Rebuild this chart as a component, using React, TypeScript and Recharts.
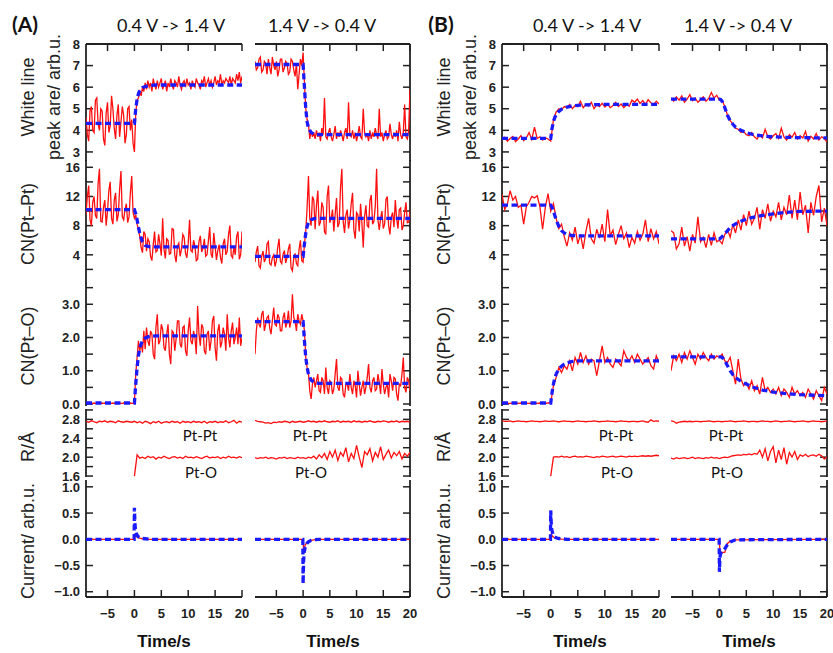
import React from "react";
import { LineChart, Line, XAxis, YAxis, ReferenceLine } from "recharts";

// Time-resolved XAS / current traces after a potential step, two samples (A) and (B).

const TIME = [
  -9, -8.5, -8, -7.5, -7, -6.5, -6, -5.5, -5, -4.5, -4, -3.5, -3, -2.5, -2, -1.5, -1, -0.5,
  0, 0.5, 1, 1.5, 2, 2.5, 3, 3.5, 4, 4.5, 5, 5.5, 6, 6.5, 7, 7.5, 8, 8.5, 9, 9.5, 10, 10.5,
  11, 11.5, 12, 12.5, 13, 13.5, 14, 14.5, 15, 15.5, 16, 16.5, 17, 17.5, 18, 18.5, 19, 19.5, 20,
];
// (A) traces are sampled more densely
const TIME_FINE = [
  -9, -8.75, -8.5, -8.25, -8, -7.75, -7.5, -7.25, -7, -6.75, -6.5, -6.25, -6, -5.75, -5.5, -5.25,
  -5, -4.75, -4.5, -4.25, -4, -3.75, -3.5, -3.25, -3, -2.75, -2.5, -2.25, -2, -1.75, -1.5, -1.25,
  -1, -0.75, -0.5, -0.25,
  0,
  0.25, 0.5, 0.75, 1, 1.25, 1.5, 1.75, 2, 2.25, 2.5, 2.75, 3, 3.25, 3.5, 3.75, 4, 4.25, 4.5, 4.75, 5,
  5.25, 5.5, 5.75, 6, 6.25, 6.5, 6.75, 7, 7.25, 7.5, 7.75, 8, 8.25, 8.5, 8.75, 9, 9.25, 9.5, 9.75, 10,
  10.25, 10.5, 10.75, 11, 11.25, 11.5, 11.75, 12, 12.25, 12.5, 12.75, 13, 13.25, 13.5, 13.75, 14, 14.25,
  14.5, 14.75, 15, 15.25, 15.5, 15.75, 16, 16.25, 16.5, 16.75, 17, 17.25, 17.5, 17.75, 18, 18.25, 18.5,
  18.75, 19, 19.25, 19.5, 19.75, 20,
];
const FIT_TIME = [-9, 0, 0.25, 0.5, 0.75, 1, 1.5, 2, 2.5, 3, 4, 5, 6, 8, 10, 12, 15, 20];
const CUR_TIME = [-9, -0.05, 0, 0.1, 0.2, 0.4, 0.7, 1, 1.5, 2, 3, 20];

const TIME_DOMAIN = [-9, 20];
const TIME_TICKS = [-5, 0, 5, 10, 15, 20];
const WL_TICKS = [3, 4, 5, 6, 7, 8];
const PTPT_TICKS = [2, 4, 6, 8, 10, 12, 14, 16];
const PTO_TICKS = [0, 0.5, 1, 1.5, 2, 2.5, 3, 3.5];
const R_TICKS = [1.6, 1.8, 2.0, 2.2, 2.4, 2.6, 2.8, 3.0];
const CUR_TICKS = [-1, -0.5, 0, 0.5, 1];

const SAMPLES = ["(A)", "(B)"];
const STEPS = ["0.4 V -> 1.4 V", "1.4 V -> 0.4 V"];
const BOND_LABELS = ["Pt-Pt", "Pt-O"];

// ---- (A) white line area (TIME_FINE)
const WL_A_UP = [
  4.6, 3.8, 3.5, 4.9, 5.1, 4.0, 3.9, 5.4, 5.5, 4.3, 4.0, 5.0, 4.9, 3.6, 3.3, 4.8, 5.3, 3.9,
  4.2, 5.6, 5.0, 4.1, 3.6, 4.7, 5.2, 3.7, 4.4, 5.1, 4.7, 3.4, 3.8, 5.0, 5.1, 4.0, 4.5, 3.4,
  3.0,
  4.8, 5.4, 5.5, 5.8, 5.6, 6.0, 5.8, 6.2,
  5.9, 6.3, 6.0, 6.2, 5.8, 6.4, 6.1, 5.9, 6.3, 6.0, 6.2, 6.4, 5.9, 6.1, 6.3, 5.8, 6.2, 6.0, 6.4, 6.1,
  5.9, 6.3, 6.2, 6.0, 6.5, 6.1, 5.9, 6.2, 6.3, 6.0, 6.4, 6.1, 6.2, 5.9, 6.3, 6.1, 6.0, 6.4, 6.2, 6.1,
  5.9, 6.3, 6.2, 6.5, 6.0, 6.2, 6.4, 6.1, 6.3, 6.0, 6.2, 6.5, 6.1, 6.3, 6.2, 6.6, 6.1, 6.3, 6.2, 6.4,
  6.3, 6.2, 6.5, 6.1, 6.4, 6.3, 6.2, 6.6, 6.3, 6.7, 6.2, 6.5,
];
const WL_A_DOWN = [
  7.2, 6.8, 6.9, 7.3, 7.4, 6.7, 6.8, 7.2, 7.1, 6.6, 7.3, 6.9, 6.6, 7.4, 7.0, 6.8, 7.2, 6.5,
  6.8, 7.3, 7.3, 6.7, 6.9, 7.2, 7.1, 6.6, 6.7, 7.3, 7.2, 6.8, 6.5, 7.1, 5.9, 6.6, 7.3, 7.0,
  7.6,
  6.2, 5.0, 4.5, 4.3, 3.6, 4.0, 3.7, 3.9,
  3.6, 4.0, 3.7, 3.9, 3.5, 4.1, 3.8, 5.5, 3.7, 3.6, 3.9, 4.1, 3.7, 3.5, 3.8, 4.2, 3.6, 3.9, 3.7, 4.0,
  3.8, 3.5, 3.9, 4.1, 3.6, 5.3, 3.8, 3.7, 4.0, 3.6, 3.9, 3.5, 3.8, 4.2, 3.7, 3.6, 5.0, 3.9, 3.7, 3.8,
  3.5, 4.0, 3.6, 3.9, 3.7, 4.1, 3.8, 3.6, 5.0, 3.7, 3.9, 3.5, 3.8, 4.0, 3.6, 3.7, 4.3, 3.8, 3.6, 3.9,
  3.7, 4.0, 3.5, 4.4, 3.8, 3.6, 3.9, 5.2, 3.7, 3.6, 4.0, 5.9,
];
const WL_A_UP_FIT = [4.32, 4.32, 5.0, 5.45, 5.7, 5.85, 5.98, 6.03, 6.06, 6.08, 6.1, 6.1, 6.1, 6.1, 6.1, 6.1, 6.1, 6.1];
const WL_A_DOWN_FIT = [7.05, 7.05, 6.0, 5.0, 4.4, 4.1, 3.9, 3.83, 3.8, 3.8, 3.8, 3.8, 3.8, 3.8, 3.8, 3.8, 3.8, 3.8];

// ---- (A) CN(Pt-Pt) (TIME_FINE)
const PTPT_A_UP = [
  9.5, 12.0, 13.5, 8.8, 8.0, 11.2, 12.0, 9.4, 9.0, 13.8, 15.8, 8.6, 8.5, 10.5, 11.5, 8.0, 10.0, 12.8,
  14.0, 9.0, 8.2, 11.5, 12.5, 8.6, 9.5, 13.0, 15.5, 9.2, 8.8, 10.2, 11.0, 8.4, 9.2, 12.5, 14.8, 9.8,
  9.0,
  9.5, 8.2, 7.5, 6.5, 5.0, 4.3, 7.2, 6.8,
  4.5, 6.2, 5.8, 3.8, 3.2, 5.4, 7.2, 4.4, 4.6, 6.8, 5.5, 3.9, 9.0, 4.8, 3.5, 6.2, 6.0, 4.1, 4.2, 7.6,
  7.5, 4.0, 3.0, 5.2, 5.6, 3.8, 4.8, 6.8, 6.4, 4.2, 3.6, 5.5, 8.8, 4.6, 4.4, 6.0, 5.2, 3.2, 3.4, 5.8,
  6.6, 4.4, 4.9, 6.2, 3.8, 4.0, 5.9, 7.8, 4.1, 3.6, 7.0, 5.2, 3.3, 4.6, 5.4, 3.6, 2.8, 5.5, 6.2, 4.0,
  4.5, 6.8, 8.0, 3.9, 3.6, 5.1, 4.0, 6.5, 7.2, 3.4, 4.0, 7.2,
];
const PTPT_A_DOWN = [
  3.0, 4.4, 5.2, 2.5, 2.2, 3.8, 4.5, 3.0, 3.5, 5.5, 5.8, 2.8, 2.6, 3.6, 4.0, 2.4, 3.2, 5.0,
  6.2, 3.1, 2.8, 4.1, 4.6, 2.9, 3.6, 4.8, 5.5, 2.2, 1.8, 3.5, 4.2, 2.8, 2.5, 4.8, 6.0, 3.2,
  3.0,
  5.5, 7.2, 10.5, 14.8, 9.0, 8.0, 12.0, 11.5,
  7.5, 10.8, 12.8, 8.0, 8.5, 11.2, 10.5, 7.2, 6.8, 12.0, 13.5, 8.4, 9.0, 10.2, 7.2, 9.6, 11.8, 7.8, 8.3, 13.2,
  15.8, 8.6, 7.0, 9.4, 10.2, 7.6, 8.8, 11.0, 12.5, 7.4, 6.2, 9.8, 9.5, 7.2, 11.0, 8.4, 5.0, 9.2, 10.8, 8.0,
  7.8, 11.4, 12.2, 8.2, 8.6, 10.6, 15.8, 8.8, 7.4, 9.0, 10.0, 7.6, 8.2, 11.6, 12.0, 8.0, 6.8, 9.2, 9.8, 7.8,
  11.5, 9.0, 7.6, 10.2, 10.4, 7.4, 8.0, 9.8, 11.2, 8.4, 8.5, 10.0,
];
const PTPT_A_UP_FIT = [10.2, 10.2, 9.6, 8.8, 7.8, 6.9, 5.8, 5.3, 5.15, 5.1, 5.1, 5.1, 5.1, 5.1, 5.1, 5.1, 5.1, 5.1];
const PTPT_A_DOWN_FIT = [3.8, 3.8, 5.5, 7.0, 7.9, 8.4, 8.8, 8.95, 9.0, 9.0, 9.0, 9.0, 9.0, 9.0, 9.0, 9.0, 9.0, 9.0];

// ---- (A) CN(Pt-O) (TIME_FINE)
const PTO_A_UP = [
  0.02, 0.03, 0.02, 0.02, 0.03, 0.02, 0.03, 0.02, 0.02, 0.03, 0.02, 0.02, 0.03, 0.02, 0.03, 0.02, 0.02, 0.03,
  0.02, 0.02, 0.03, 0.02, 0.03, 0.02, 0.02, 0.03, 0.02, 0.02, 0.03, 0.02, 0.03, 0.02, 0.02, 0.03, 0.02, 0.02,
  0.03,
  0.9, 1.4, 1.9, 1.6, 1.85, 1.55, 2.2, 1.65,
  2.3, 1.9, 1.75, 2.2, 2.1, 1.5, 1.35, 2.3, 2.7, 1.8, 1.9, 2.4, 2.25, 1.7, 1.6, 2.1, 2.4, 1.5, 1.2, 2.2,
  2.15, 1.6, 1.95, 2.5, 2.5, 1.8, 1.7, 2.3, 2.35, 1.6, 1.45, 2.2, 2.6, 1.9, 1.8, 2.2, 2.0, 1.5, 2.95, 2.1,
  1.75, 2.4, 2.3, 1.6, 1.5, 2.1, 2.2, 1.6, 1.9, 2.5, 2.65, 1.7, 1.3, 2.2, 2.4, 1.7, 1.85, 2.3, 2.1, 1.6,
  2.7, 2.0, 1.7, 2.2, 2.45, 1.8, 2.0, 2.3, 1.8, 2.6, 1.75, 2.0,
];
const PTO_A_DOWN = [
  1.5, 2.2, 2.6, 2.4, 2.3, 2.7, 2.8, 2.2, 2.4, 2.6, 2.65, 2.3, 2.1, 2.5, 2.9, 2.4, 2.35, 2.7,
  2.6, 2.2, 2.2, 2.6, 2.75, 2.3, 2.45, 2.8, 2.3, 2.5, 3.3, 2.6, 2.5, 2.2, 2.7, 2.5, 2.4, 2.7,
  2.5,
  2.2, 1.4, 1.1, 0.95, 0.4, 0.15, 0.6, 0.8,
  0.5, 0.7, 0.9, 0.4, 0.35, 0.8, 0.7, 0.3, 1.1, 0.5, 0.3, 0.7, 0.65, 0.3, 0.45, 0.9, 1.35, 0.5, 0.4, 0.8,
  0.75, 0.3, 0.2, 0.6, 0.6, 0.4, 0.9, 0.5, 0.3, 0.7, 0.55, 0.2, 1.0, 0.6, 0.25, 0.5, 0.7, 0.3, 0.5, 0.8,
  1.2, 0.5, 0.35, 0.7, 0.8, 0.4, 0.45, 0.9, 0.65, 0.3, 1.05, 0.6, 0.3, 0.5, 0.6, 0.2, 0.9, 0.7, 0.4, 0.8,
  0.75, 0.3, 0.1, 0.6, 0.55, 0.9, 1.4, 0.5, 0.35, 0.8, 0.7, 0.4,
];
const PTO_A_UP_FIT = [0.03, 0.03, 0.6, 1.1, 1.45, 1.7, 1.9, 1.98, 2.02, 2.04, 2.05, 2.05, 2.05, 2.05, 2.05, 2.05, 2.05, 2.05];
const PTO_A_DOWN_FIT = [2.48, 2.48, 1.9, 1.4, 1.1, 0.9, 0.72, 0.66, 0.63, 0.62, 0.62, 0.62, 0.62, 0.62, 0.62, 0.62, 0.62, 0.62];

// ---- (A) bond distances (TIME)
const R_PTPT_A_UP = [
  2.76, 2.74, 2.77, 2.75, 2.73, 2.76, 2.75, 2.77, 2.74, 2.76, 2.75, 2.73, 2.77, 2.75, 2.74, 2.76, 2.75, 2.74,
  2.76, 2.73, 2.75, 2.72, 2.76, 2.74, 2.71, 2.75, 2.73, 2.76, 2.72, 2.74, 2.75, 2.73, 2.76, 2.74, 2.75, 2.72,
  2.76, 2.74, 2.75, 2.73, 2.76, 2.74, 2.75, 2.73, 2.76, 2.72, 2.75, 2.74, 2.76, 2.73, 2.75, 2.74, 2.77, 2.73,
  2.75, 2.78, 2.72, 2.76, 2.74,
];
const R_PTO_A_UP = [
  null, null, null, null, null, null, null, null, null, null, null, null, null, null, null, null, null, null,
  1.6,
  2.05, 1.98, 2.0, 1.97, 2.02, 1.99, 2.01, 1.96, 2.0, 1.98, 2.02, 1.99, 1.97, 2.0, 2.01, 1.98, 2.0, 1.97, 2.02, 1.99,
  2.0, 1.98, 2.01, 1.99, 1.97, 2.0, 2.02, 1.98, 2.0, 1.99, 2.01, 1.97, 2.0, 1.98, 2.02, 1.99, 2.0, 1.98, 2.01, 1.99,
];
const R_PTPT_A_DOWN = [
  2.78, 2.76, 2.75, 2.74, 2.72, 2.73, 2.71, 2.74, 2.73, 2.75, 2.74, 2.76, 2.75, 2.73, 2.76, 2.74, 2.75, 2.76,
  2.74, 2.75, 2.77, 2.75, 2.76, 2.74, 2.76, 2.75, 2.77, 2.75, 2.74, 2.76, 2.75, 2.77, 2.74, 2.76, 2.75, 2.76,
  2.74, 2.77, 2.75, 2.76, 2.74, 2.76, 2.75, 2.77, 2.75, 2.74, 2.76, 2.75, 2.77, 2.76, 2.74, 2.76, 2.75, 2.77,
  2.74, 2.76, 2.75, 2.76, 2.74,
];
const R_PTO_A_DOWN = [
  1.99, 1.97, 1.99, 1.98, 2.0, 1.97, 1.99, 1.98, 1.96, 1.99, 1.98, 2.0, 1.97, 1.99, 1.98, 1.97, 2.0, 1.98,
  1.99, 1.97, 2.0, 1.98, 2.02, 1.96, 2.05, 1.99, 2.08, 1.95, 2.12, 2.0, 2.15, 1.93, 2.1, 2.02, 2.2, 1.9,
  2.08, 1.97, 2.25, 2.0, 1.78, 2.12, 2.05, 2.18, 1.92, 2.1, 2.0, 2.22, 1.95, 2.06, 2.15, 1.98, 2.1, 2.03,
  2.12, 1.96, 2.08, 2.02, 2.1,
];

// ---- (A) current (CUR_TIME)
const CUR_A_UP = [0, 0, 0.02, 0.09, 0.08, 0.05, 0.03, 0.02, 0.01, 0.005, 0, 0];
const CUR_A_UP_FIT = [0, 0, 0.6, 0.3, 0.18, 0.1, 0.05, 0.03, 0.015, 0.01, 0, 0];
const CUR_A_DOWN = [0, 0, -0.04, -0.2, -0.17, -0.11, -0.06, -0.04, -0.02, -0.01, 0, 0];
const CUR_A_DOWN_FIT = [0, 0, -0.85, -0.4, -0.25, -0.15, -0.08, -0.05, -0.02, -0.01, 0, 0];

// ---- (B) white line area (TIME)
const WL_B_UP = [
  3.55, 3.68, 3.5, 3.62, 3.72, 3.48, 3.6, 3.75, 3.52, 3.65, 3.9, 3.58, 4.15, 3.62, 3.7, 3.55, 3.66, 3.6,
  3.5,
  4.5, 4.85, 5.0, 4.95, 5.1, 5.05, 5.2, 5.0, 5.15, 5.1, 5.35, 5.05, 5.2, 5.12, 5.3, 5.0, 5.18, 5.1, 5.25, 5.08,
  5.2, 5.05, 5.15, 5.3, 5.1, 5.22, 5.05, 5.18, 5.12, 5.4, 5.3, 5.45, 5.25, 5.38, 5.2, 5.42, 5.28, 5.2, 5.35, 5.22,
];
const WL_B_DOWN = [
  5.5, 5.35, 5.55, 5.4, 5.6, 5.3, 5.45, 5.65, 5.38, 5.5, 5.3, 5.42, 5.55, 5.35, 5.48, 5.75, 5.5, 5.62,
  5.4,
  5.4, 5.1, 4.7, 4.45, 4.3, 4.1, 4.05, 3.9, 3.95, 3.8, 3.75, 3.9, 3.7, 3.6, 3.8, 3.65, 4.05, 3.7, 3.6, 3.75,
  3.85, 3.62, 4.1, 3.7, 3.55, 3.8, 3.68, 3.9, 3.6, 3.75, 3.65, 3.95, 3.5, 3.72, 3.6, 3.85, 3.55, 3.7, 3.62, 3.45,
];
const WL_B_UP_FIT = [3.63, 3.63, 4.1, 4.4, 4.6, 4.72, 4.88, 4.98, 5.04, 5.08, 5.13, 5.16, 5.18, 5.19, 5.2, 5.2, 5.2, 5.2];
const WL_B_DOWN_FIT = [5.45, 5.45, 5.42, 5.35, 5.22, 5.05, 4.7, 4.45, 4.28, 4.15, 4.0, 3.9, 3.82, 3.74, 3.7, 3.68, 3.66, 3.65];

// ---- (B) CN(Pt-Pt)
const PTPT_B_UP = [
  12.3, 10.2, 11.0, 12.8, 11.5, 12.0, 10.5, 10.8, 8.2, 10.6, 11.2, 12.0, 11.8, 12.1, 10.6, 7.5, 10.5, 12.4,
  10.0,
  11.0, 9.0, 7.6, 8.2, 6.5, 5.2, 7.0, 6.0, 7.8, 5.5, 6.8, 4.8, 7.2, 9.0, 6.2, 5.6, 7.5, 6.3, 8.2, 5.8,
  10.2, 6.6, 7.4, 5.4, 6.8, 8.0, 6.2, 7.0, 5.0, 6.4, 5.6, 7.2, 6.0, 6.8, 8.8, 5.8, 7.6, 6.2, 7.2, 5.5,
];
const PTPT_B_DOWN = [
  7.3, 7.0, 4.8, 5.5, 7.8, 5.2, 6.5, 4.5, 6.8, 5.6, 9.2, 5.8, 6.4, 5.0, 6.8, 5.3, 7.0, 5.8,
  6.0,
  5.5, 6.8, 7.5, 6.4, 8.2, 7.0, 8.8, 7.4, 9.5, 8.0, 10.0, 8.2, 9.0, 10.5, 7.5, 10.2, 9.0, 11.0, 8.6, 10.0,
  9.2, 11.2, 8.8, 10.5, 9.5, 12.2, 9.0, 11.5, 8.8, 12.6, 9.5, 10.8, 7.0, 11.2, 9.4, 12.0, 13.5, 8.5, 10.4, 8.0,
];
const PTPT_B_UP_FIT = [10.8, 10.8, 10.5, 10.0, 9.4, 8.8, 7.9, 7.3, 7.0, 6.8, 6.65, 6.6, 6.6, 6.6, 6.6, 6.6, 6.6, 6.6];
const PTPT_B_DOWN_FIT = [6.2, 6.2, 6.3, 6.5, 6.7, 6.9, 7.3, 7.7, 8.0, 8.25, 8.6, 8.9, 9.1, 9.4, 9.6, 9.8, 9.95, 10.0];

// ---- (B) CN(Pt-O)
const PTO_B_UP = [
  0.02, 0.03, 0.02, 0.02, 0.03, 0.02, 0.02, 0.03, 0.02, 0.02, 0.02, 0.03, 0.02, 0.02, 0.03, 0.02, 0.02, 0.03,
  0.03,
  0.55, 0.8, 1.1, 0.95, 1.15, 1.05, 1.3, 1.0, 1.4, 1.2, 1.55, 1.25, 1.45, 1.2, 1.35, 1.3, 0.85, 1.3, 1.75, 1.25,
  1.4, 1.2, 1.1, 1.35, 1.25, 1.15, 1.6, 1.4, 1.3, 1.45, 1.25, 1.5, 1.35, 1.2, 1.3, 1.4, 1.15, 1.05, 1.45, 1.25,
];
const PTO_B_DOWN = [
  1.0, 1.45, 1.3, 1.5, 1.25, 1.55, 1.35, 1.6, 1.4, 1.2, 1.5, 1.35, 1.55, 1.4, 1.3, 1.5, 1.35, 1.45,
  1.4,
  1.5, 1.3, 1.25, 1.4, 1.0, 0.6, 1.35, 0.75, 0.55, 0.65, 0.45, 0.7, 0.4, 0.55, 0.3, 0.8, 0.4, 0.5, 0.35, 0.45,
  0.3, 0.5, 0.25, 0.45, 0.35, 0.2, 0.5, 0.3, 0.4, 0.25, 0.35, 0.2, 0.45, 0.3, 0.15, 0.4, 0.25, 0.1, 0.5, 0.3,
];
const PTO_B_UP_FIT = [0.03, 0.03, 0.35, 0.6, 0.78, 0.9, 1.05, 1.14, 1.2, 1.24, 1.28, 1.3, 1.3, 1.3, 1.3, 1.3, 1.3, 1.3];
const PTO_B_DOWN_FIT = [1.42, 1.42, 1.42, 1.4, 1.36, 1.3, 1.15, 1.0, 0.88, 0.8, 0.68, 0.6, 0.52, 0.42, 0.36, 0.32, 0.28, 0.25];

// ---- (B) bond distances
const R_PTPT_B_UP = [
  2.77, 2.76, 2.76, 2.77, 2.75, 2.76, 2.77, 2.76, 2.76, 2.75, 2.76, 2.77, 2.76, 2.76, 2.75, 2.76, 2.77, 2.76,
  2.76, 2.77, 2.76, 2.75, 2.76, 2.77, 2.76, 2.76, 2.75, 2.76, 2.77, 2.76, 2.76, 2.75, 2.76, 2.76, 2.77, 2.76,
  2.75, 2.76, 2.76, 2.77, 2.76, 2.76, 2.75, 2.76, 2.77, 2.76, 2.76, 2.75, 2.76, 2.76, 2.75, 2.76, 2.77, 2.75,
  2.74, 2.79, 2.76, 2.77, 2.76,
];
const R_PTO_B_UP = [
  null, null, null, null, null, null, null, null, null, null, null, null, null, null, null, null, null, null,
  1.6,
  2.0, 2.01, 2.0, 2.02, 2.0, 2.01, 1.99, 2.01, 2.02, 2.0, 2.01, 2.0, 2.02, 2.01, 2.0, 1.99, 2.01, 2.0, 2.02, 2.01,
  2.0, 2.01, 2.02, 2.0, 2.01, 2.02, 2.01, 2.0, 2.02, 2.01, 2.02, 2.01, 2.02, 2.03, 2.02, 2.03, 2.02, 2.03, 2.04, 2.03,
];
const R_PTPT_B_DOWN = [
  2.77, 2.76, 2.72, 2.74, 2.75, 2.76, 2.75, 2.76, 2.75, 2.76, 2.76, 2.75, 2.76, 2.76, 2.77, 2.76, 2.75, 2.76,
  2.76, 2.75, 2.76, 2.76, 2.77, 2.76, 2.75, 2.76, 2.76, 2.77, 2.76, 2.75, 2.76, 2.76, 2.75, 2.76, 2.77, 2.76,
  2.76, 2.75, 2.76, 2.77, 2.76, 2.75, 2.76, 2.76, 2.77, 2.76, 2.75, 2.76, 2.76, 2.77, 2.76, 2.75, 2.76, 2.77,
  2.76, 2.76, 2.75, 2.76, 2.77,
];
const R_PTO_B_DOWN = [
  1.98, 1.96, 1.99, 1.97, 1.98, 1.99, 1.97, 1.98, 2.0, 1.97, 1.99, 1.98, 1.97, 1.99, 1.98, 2.0, 1.98, 1.99,
  1.97, 1.99, 2.0, 1.99, 2.01, 2.03, 2.04, 2.05, 2.04, 2.06, 2.05, 2.07, 2.05, 2.08, 2.06, 2.15, 2.0, 2.18,
  1.92, 2.12, 2.22, 1.88, 2.15, 1.95, 2.2, 1.85, 2.1, 2.0, 2.12, 1.95, 2.05, 2.02, 2.06, 2.01, 2.04, 2.05,
  2.02, 2.06, 2.03, 1.96, 2.01,
];

// ---- (B) current
const CUR_B_UP = [0, 0, 0.02, 0.1, 0.08, 0.05, 0.03, 0.02, 0.01, 0.005, 0, 0];
const CUR_B_UP_FIT = [0, 0, 0.55, 0.3, 0.18, 0.1, 0.05, 0.03, 0.015, 0.01, 0, 0];
const CUR_B_DOWN = [0, 0, -0.05, -0.25, -0.25, -0.25, -0.25, -0.25, -0.08, -0.04, -0.01, 0];
const CUR_B_DOWN_FIT = [0, 0, -0.62, -0.35, -0.28, -0.25, -0.22, -0.18, -0.1, -0.05, -0.01, 0];

// ---------------------------------------------------------------------------

const RED = "#ff1010";
const BLUE = "#1a1aff";
const INK = "#222";
const TICK_FONT = { fill: INK, fontSize: 13, fontWeight: 700, fontFamily: "'Liberation Sans', Arial, sans-serif" };
const TL = 7; // inward tick length, px
const FRAME = { stroke: INK, strokeWidth: 1.8 };
const TICK_STROKE = { stroke: INK, strokeWidth: 1.5 };

type Series = { t: number[]; v: (number | null)[]; fit?: boolean };

const raw = (v: (number | null)[]): Series => ({ t: TIME, v });
const fine = (v: number[]): Series => ({ t: TIME_FINE, v });
const fit = (v: number[]): Series => ({ t: FIT_TIME, v, fit: true });
const cur = (v: number[], isFit = false): Series => ({ t: CUR_TIME, v, fit: isFit });

const minus = (s: string) => s.replace("-", "\u2212");

const ROWS = [
  { top: 44, bottom: 160, domain: [2.58, 8], ticks: WL_TICKS, fmt: (v: number) => String(v) },
  { top: 160, bottom: 283, domain: [0, 17], ticks: PTPT_TICKS, fmt: (v: number) => (v % 4 === 0 ? String(v) : "") },
  { top: 283, bottom: 405, domain: [-0.06, 3.64], ticks: PTO_TICKS, fmt: (v: number) => (v % 1 === 0 ? v.toFixed(1) : "") },
  { top: 409, bottom: 476, domain: [1.58, 3.02], ticks: R_TICKS, fmt: (v: number) => (Math.round(v * 10) % 4 === 0 ? v.toFixed(1) : "") },
  { top: 480, bottom: 597, domain: [-1.1, 1.13], ticks: CUR_TICKS, fmt: (v: number) => minus(v.toFixed(1)) },
];

const COLUMNS = [
  { x0: 86, x1: 242 },
  { x0: 256, x1: 411 },
  { x0: 502, x1: 659 },
  { x0: 672, x1: 828 },
];

const PANEL_SERIES: Series[][][] = [
  [
    [fine(WL_A_UP), fit(WL_A_UP_FIT)],
    [fine(PTPT_A_UP), fit(PTPT_A_UP_FIT)],
    [fine(PTO_A_UP), fit(PTO_A_UP_FIT)],
    [raw(R_PTPT_A_UP), raw(R_PTO_A_UP)],
    [cur(CUR_A_UP), cur(CUR_A_UP_FIT, true)],
  ],
  [
    [fine(WL_A_DOWN), fit(WL_A_DOWN_FIT)],
    [fine(PTPT_A_DOWN), fit(PTPT_A_DOWN_FIT)],
    [fine(PTO_A_DOWN), fit(PTO_A_DOWN_FIT)],
    [raw(R_PTPT_A_DOWN), raw(R_PTO_A_DOWN)],
    [cur(CUR_A_DOWN), cur(CUR_A_DOWN_FIT, true)],
  ],
  [
    [raw(WL_B_UP), fit(WL_B_UP_FIT)],
    [raw(PTPT_B_UP), fit(PTPT_B_UP_FIT)],
    [raw(PTO_B_UP), fit(PTO_B_UP_FIT)],
    [raw(R_PTPT_B_UP), raw(R_PTO_B_UP)],
    [cur(CUR_B_UP), cur(CUR_B_UP_FIT, true)],
  ],
  [
    [raw(WL_B_DOWN), fit(WL_B_DOWN_FIT)],
    [raw(PTPT_B_DOWN), fit(PTPT_B_DOWN_FIT)],
    [raw(PTO_B_DOWN), fit(PTO_B_DOWN_FIT)],
    [raw(R_PTPT_B_DOWN), raw(R_PTO_B_DOWN)],
    [cur(CUR_B_DOWN), cur(CUR_B_DOWN_FIT, true)],
  ],
];

const toRows = (s: Series) => s.t.map((t, i) => ({ t, v: s.v[i] }));

// tick labels only (axis sits at tickSize 0, so x/y are on the axis line)
function makeLabel(side: "left" | "bottom", fmt: (v: number) => string) {
  return (props: any) => {
    const { x, y, payload } = props;
    const label = fmt(payload.value);
    if (!label) return <g />;
    return side === "left" ? (
      <text x={x - 6} y={y} dy="0.36em" textAnchor="end" {...TICK_FONT}>
        {label}
      </text>
    ) : (
      <text x={x} y={y + 16} dy="0.36em" textAnchor="middle" {...TICK_FONT}>
        {label}
      </text>
    );
  };
}

function Panel({ col, row, series }: { col: number; row: number; series: Series[] }) {
  const M = 8;
  const { x0, x1 } = COLUMNS[col];
  const r = ROWS[row];
  const left = col % 2 === 0;
  const last = row === ROWS.length - 1;
  const axisW = left ? 50 : 1;
  const axisH = last ? 34 : 1;
  const w = x1 - x0 + axisW + 2 * M;
  const h = r.bottom - r.top + axisH + 2 * M;
  const [tMin, tMax] = TIME_DOMAIN;
  const [yMin, yMax] = r.domain;
  // tick length expressed in data units of this panel
  const dx = (TL * (tMax - tMin)) / (x1 - x0);
  const dy = (TL * (yMax - yMin)) / (r.bottom - r.top);
  const edgeX = left ? tMin : tMax;
  const inX = left ? edgeX + dx : edgeX - dx;

  return (
    <div style={{ position: "absolute", left: x0 - axisW - M, top: r.top - M }}>
      <LineChart width={w} height={h} margin={{ top: M, right: M, bottom: M, left: M }}>
        <XAxis
          xAxisId="b"
          type="number"
          dataKey="t"
          domain={TIME_DOMAIN}
          allowDataOverflow
          ticks={TIME_TICKS}
          interval={0}
          hide={!last}
          height={axisH}
          tickSize={0}
          tickMargin={0}
          tickLine={false}
          axisLine={false}
          tick={makeLabel("bottom", (v: number) => minus(String(v)))}
        />
        <YAxis
          yAxisId="y"
          orientation={left ? "left" : "right"}
          width={axisW}
          type="number"
          domain={r.domain}
          allowDataOverflow
          ticks={r.ticks}
          interval={0}
          tickSize={0}
          tickMargin={0}
          tickLine={false}
          axisLine={false}
          tick={left ? makeLabel("left", r.fmt) : false}
        />

        {/* frame */}
        <ReferenceLine xAxisId="b" yAxisId="y" x={edgeX} ifOverflow="visible" {...FRAME} />
        {row === 0 && <ReferenceLine xAxisId="b" yAxisId="y" y={yMax} ifOverflow="visible" {...FRAME} />}
        {last && <ReferenceLine xAxisId="b" yAxisId="y" y={yMin} ifOverflow="visible" {...FRAME} />}

        {/* inward tick marks */}
        {r.ticks.map((v) => (
          <ReferenceLine
            key={`y${v}`}
            xAxisId="b"
            yAxisId="y"
            ifOverflow="visible"
            segment={[{ x: edgeX, y: v }, { x: inX, y: v }]}
            {...TICK_STROKE}
          />
        ))}
        {row === 0 &&
          TIME_TICKS.map((t) => (
            <ReferenceLine
              key={`t${t}`}
              xAxisId="b"
              yAxisId="y"
              ifOverflow="visible"
              segment={[{ x: t, y: yMax }, { x: t, y: yMax - dy }]}
              {...TICK_STROKE}
            />
          ))}
        {last &&
          TIME_TICKS.map((t) => (
            <ReferenceLine
              key={`b${t}`}
              xAxisId="b"
              yAxisId="y"
              ifOverflow="visible"
              segment={[{ x: t, y: yMin }, { x: t, y: yMin + dy }]}
              {...TICK_STROKE}
            />
          ))}

        {series.map((s, i) => (
          <Line
            key={i}
            xAxisId="b"
            yAxisId="y"
            data={toRows(s)}
            dataKey="v"
            type="linear"
            dot={false}
            activeDot={false}
            stroke={s.fit ? BLUE : RED}
            strokeWidth={s.fit ? 3.3 : 1.3}
            strokeDasharray={s.fit ? "6 3.5" : undefined}
            isAnimationActive={false}
          />
        ))}
      </LineChart>
    </div>
  );
}

const LABEL_FONT = "'Liberation Sans', Arial, sans-serif";
const TITLE_FONT = "Lato, 'Open Sans', sans-serif";

function VLabel({ x, y, text }: { x: number; y: number; text: string }) {
  return (
    <div
      style={{
        position: "absolute",
        left: x,
        top: y,
        transform: "translate(-50%, -50%) rotate(-90deg)",
        whiteSpace: "nowrap",
        fontFamily: LABEL_FONT,
        fontSize: 18,
        color: INK,
      }}
    >
      {text}
    </div>
  );
}

function CText({ x, y, text, size, bold, font }: { x: number; y: number; text: string; size: number; bold?: boolean; font: string }) {
  return (
    <div
      style={{
        position: "absolute",
        left: x,
        top: y,
        transform: "translate(-50%, -50%)",
        whiteSpace: "nowrap",
        fontFamily: font,
        fontSize: size,
        fontWeight: bold ? 700 : 400,
        color: "#111",
      }}
    >
      {text}
    </div>
  );
}

export default function App() {
  return (
    <div style={{ position: "absolute", left: 0, top: 0, width: 833, height: 653, background: "#fff", overflow: "hidden" }}>
      {PANEL_SERIES.map((rows, c) => rows.map((s, r) => <Panel key={`${c}-${r}`} col={c} row={r} series={s} />))}

      {[0, 416].map((dx, k) => (
        <React.Fragment key={k}>
          <CText x={25 + dx} y={23} text={SAMPLES[k]} size={21} bold font={TITLE_FONT} />
          <CText x={171 + dx} y={25} text={STEPS[0]} size={18} font={TITLE_FONT} />
          <CText x={322 + dx} y={25} text={STEPS[1]} size={18} font={TITLE_FONT} />
          <VLabel x={28 + dx} y={97} text="White line" />
          <VLabel x={54 + dx} y={97} text="peak are/ arb.u." />
          <VLabel x={28 + dx} y={224} text={"CN(Pt\u2013Pt)"} />
          <VLabel x={28 + dx} y={346} text={"CN(Pt\u2013O)"} />
          <VLabel x={28 + dx} y={447} text={"R/\u00c5"} />
          <VLabel x={28 + dx} y={541} text="Current/ arb.u." />
          <CText x={164 + dx} y={642} text="Time/s" size={17} bold font={LABEL_FONT} />
          <CText x={333 + dx} y={642} text="Time/s" size={17} bold font={LABEL_FONT} />
          <CText x={200 + dx} y={435} text={BOND_LABELS[0]} size={15} font={TITLE_FONT} />
          <CText x={201 + dx} y={472} text={BOND_LABELS[1]} size={15} font={TITLE_FONT} />
          <CText x={310 + dx} y={435} text={BOND_LABELS[0]} size={15} font={TITLE_FONT} />
          <CText x={311 + dx} y={472} text={BOND_LABELS[1]} size={15} font={TITLE_FONT} />
        </React.Fragment>
      ))}
    </div>
  );
}
